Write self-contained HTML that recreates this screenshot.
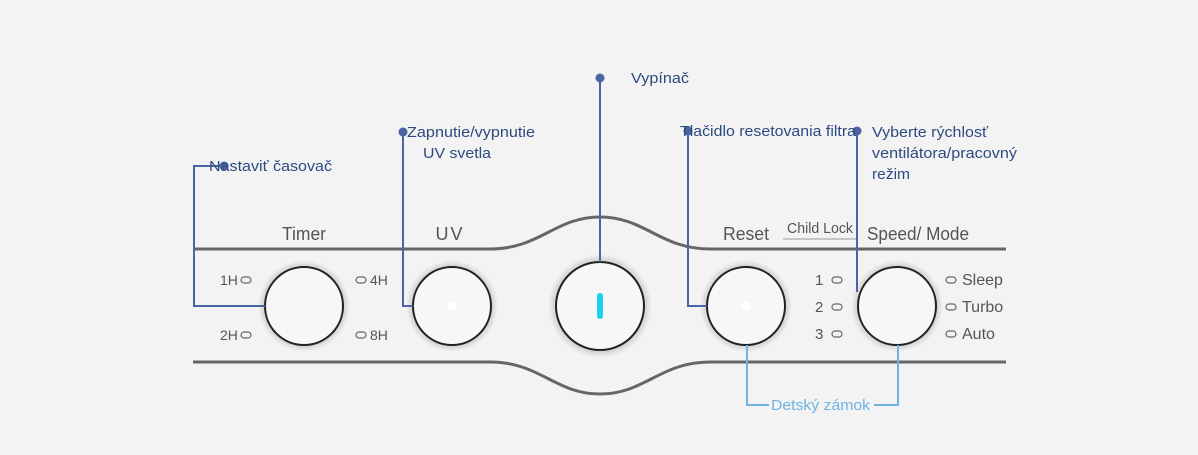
<!DOCTYPE html>
<html><head><meta charset="utf-8"><style>
html,body{margin:0;padding:0;background:#f3f3f3;}
svg{display:block}
.lab{font-family:"Liberation Sans",sans-serif;font-size:15px;fill:#2d4a7e}
.pan{font-family:"Liberation Sans",sans-serif;fill:#555}
</style></head><body>
<svg width="1198" height="455" viewBox="0 0 1198 455" xmlns="http://www.w3.org/2000/svg">
<defs>
<radialGradient id="sh" cx="50%" cy="50%" r="50%">
<stop offset="75%" stop-color="#000" stop-opacity="0.25"/>
<stop offset="100%" stop-color="#000" stop-opacity="0"/>
</radialGradient>
</defs>
<rect width="1198" height="455" fill="#f3f3f3"/>
<path d="M193 249 H490 C540 249 555 217 600 217 C645 217 660 249 710 249 H1006" fill="none" stroke="#666" stroke-width="3"/>
<path d="M193 362 H490 C540 362 555 394 600 394 C645 394 660 362 710 362 H1006" fill="none" stroke="#666" stroke-width="3"/>
<g>
<circle cx="304" cy="306" r="46" fill="url(#sh)"/>
<circle cx="452" cy="306" r="46" fill="url(#sh)"/>
<circle cx="600" cy="306" r="52" fill="url(#sh)"/>
<circle cx="746" cy="306" r="46" fill="url(#sh)"/>
<circle cx="897" cy="306" r="46" fill="url(#sh)"/>
</g>
<g fill="#f7f7f7" stroke="#222" stroke-width="2">
<circle cx="304" cy="306" r="39"/>
<circle cx="452" cy="306" r="39"/>
<circle cx="600" cy="306" r="44"/>
<circle cx="746" cy="306" r="39"/>
<circle cx="897" cy="306" r="39"/>
</g>
<circle cx="452" cy="306" r="4.5" fill="#fff"/>
<circle cx="746" cy="306" r="4.5" fill="#fff"/>
<rect x="597" y="293" width="6" height="26" rx="3" fill="#19d4ec"/>
<g class="pan" font-size="18">
<text x="304" y="240" text-anchor="middle" textLength="44" lengthAdjust="spacingAndGlyphs">Timer</text>
<text x="450" y="240" text-anchor="middle" letter-spacing="2">UV</text>
<text x="746" y="240" text-anchor="middle" textLength="46" lengthAdjust="spacingAndGlyphs">Reset</text>
<text x="918" y="240" text-anchor="middle" textLength="102" lengthAdjust="spacingAndGlyphs">Speed/ Mode</text>
<text x="820" y="233" text-anchor="middle" font-size="15" textLength="66" lengthAdjust="spacingAndGlyphs">Child Lock</text>
</g>
<line x1="783" y1="239" x2="856" y2="239" stroke="#999" stroke-width="1"/>
<g class="pan" font-size="14">
<text x="220" y="285">1H</text><text x="220" y="340">2H</text>
<text x="370" y="285">4H</text><text x="370" y="340">8H</text>
<text x="815" y="285" font-size="15">1</text><text x="815" y="312" font-size="15">2</text><text x="815" y="339" font-size="15">3</text>
<text x="962" y="285" font-size="16">Sleep</text><text x="962" y="312" font-size="16">Turbo</text><text x="962" y="339" font-size="16">Auto</text>
</g>
<g fill="none" stroke="#666" stroke-width="1.2">
<rect x="241" y="277" width="10" height="6" rx="3"/><rect x="241" y="332" width="10" height="6" rx="3"/>
<rect x="356" y="277" width="10" height="6" rx="3"/><rect x="356" y="332" width="10" height="6" rx="3"/>
<rect x="832" y="277" width="10" height="6" rx="3"/><rect x="832" y="304" width="10" height="6" rx="3"/><rect x="832" y="331" width="10" height="6" rx="3"/>
<rect x="946" y="277" width="10" height="6" rx="3"/><rect x="946" y="304" width="10" height="6" rx="3"/><rect x="946" y="331" width="10" height="6" rx="3"/>
</g>
<g fill="none" stroke="#4a64a4" stroke-width="2">
<path d="M224 166 H194 V306 H265"/>
<path d="M403 132 V306 H413"/>
<path d="M600 78 V262"/>
<path d="M688 131 V306 H707"/>
<path d="M857 131 V292"/>
</g>
<g fill="#4a64a4">
<circle cx="224" cy="166" r="4.5"/><circle cx="403" cy="132" r="4.5"/><circle cx="600" cy="78" r="4.5"/>
<circle cx="688" cy="131" r="4.5"/><circle cx="857" cy="131" r="4.5"/>
</g>
<path d="M747 345 V405 H769 M874 405 H898 V345" fill="none" stroke="#6db3e4" stroke-width="2"/>
<text x="771" y="410" font-family="Liberation Sans,sans-serif" font-size="15" fill="#6db3e4" textLength="99" lengthAdjust="spacingAndGlyphs">Detský zámok</text>
<g class="lab">
<text x="209" y="171" textLength="123" lengthAdjust="spacingAndGlyphs">Nastaviť časovač</text>
<text x="407" y="137" textLength="128" lengthAdjust="spacingAndGlyphs">Zapnutie/vypnutie</text>
<text x="423" y="158" textLength="68" lengthAdjust="spacingAndGlyphs">UV svetla</text>
<text x="631" y="83" textLength="58" lengthAdjust="spacingAndGlyphs">Vypínač</text>
<text x="680" y="136" textLength="176" lengthAdjust="spacingAndGlyphs">Tlačidlo resetovania filtra</text>
<text x="872" y="137" textLength="116" lengthAdjust="spacingAndGlyphs">Vyberte rýchlosť</text>
<text x="872" y="158" textLength="145" lengthAdjust="spacingAndGlyphs">ventilátora/pracovný</text>
<text x="872" y="179" textLength="38" lengthAdjust="spacingAndGlyphs">režim</text>
</g>
</svg>
</body></html>
